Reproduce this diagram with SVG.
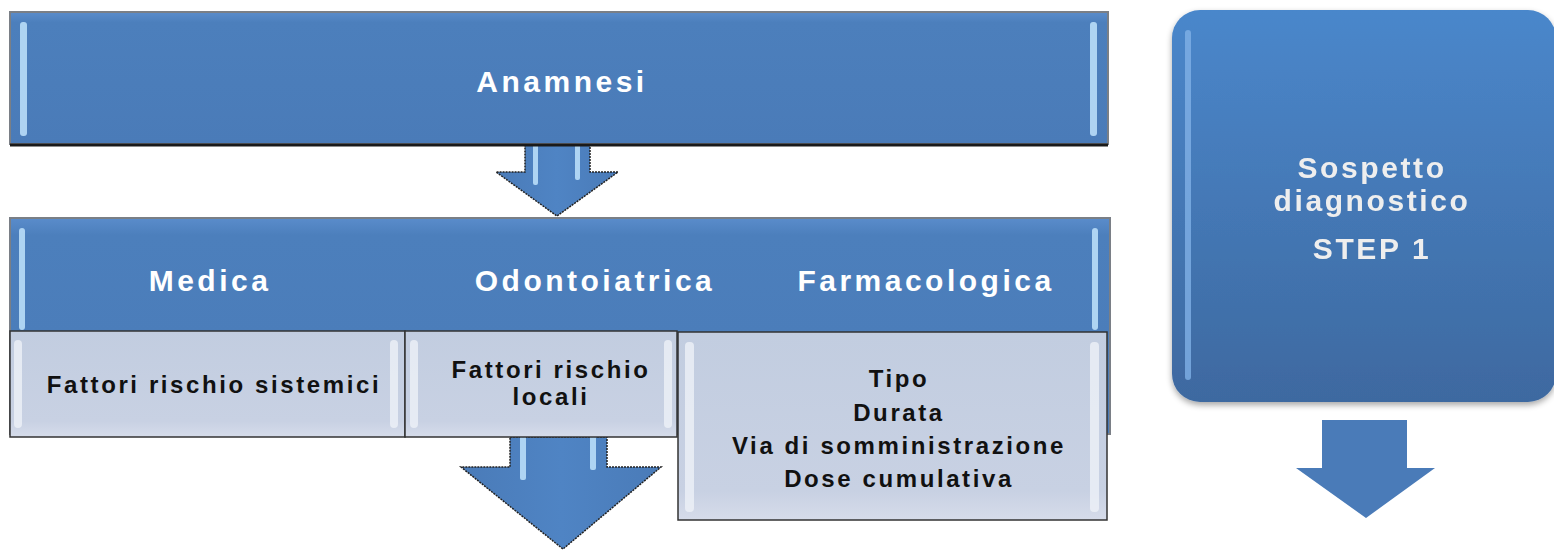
<svg xmlns="http://www.w3.org/2000/svg" width="1554" height="550" viewBox="0 0 1554 550">
<defs>
<linearGradient id="bandG" x1="0" y1="0" x2="0" y2="1">
<stop offset="0" stop-color="#5a8ccb"/><stop offset="0.08" stop-color="#4c7fbc"/><stop offset="1" stop-color="#4a7bb8"/>
</linearGradient>
<linearGradient id="subG" x1="0" y1="0" x2="0" y2="1">
<stop offset="0" stop-color="#c2cde0"/><stop offset="0.85" stop-color="#c8d1e3"/><stop offset="1" stop-color="#d6dcea"/>
</linearGradient>
<linearGradient id="stepG" x1="0" y1="0" x2="0" y2="1">
<stop offset="0" stop-color="#4a87cb"/><stop offset="1" stop-color="#3e69a0"/>
</linearGradient>
<linearGradient id="arrG" x1="0" y1="0" x2="1" y2="0">
<stop offset="0" stop-color="#4a7bb8"/><stop offset="0.5" stop-color="#4f84c4"/><stop offset="1" stop-color="#4a7bb8"/>
</linearGradient>
<filter id="sh" x="-5%" y="-5%" width="110%" height="115%">
<feGaussianBlur in="SourceAlpha" stdDeviation="3"/><feOffset dx="0" dy="3"/>
<feComponentTransfer><feFuncA type="linear" slope="0.35"/></feComponentTransfer>
<feMerge><feMergeNode/><feMergeNode in="SourceGraphic"/></feMerge>
</filter>
</defs>
<style>
.band{fill:url(#bandG);stroke:#7a7f86;stroke-width:2}
.bot{stroke:#1a1a1a;stroke-width:3}
.hl{fill:#bfe3fb;opacity:0.85}
.sub{fill:url(#subG);stroke:#333;stroke-width:1.5}
.subhl{fill:#eef1f7;opacity:0.8}
.hdr{font-family:"Liberation Sans",Arial,sans-serif;font-weight:bold;font-size:30px;letter-spacing:3.5px;fill:#ffffff;text-anchor:middle}
.txt{font-family:"Liberation Sans",Arial,sans-serif;font-weight:bold;font-size:24px;letter-spacing:2.6px;fill:#111;text-anchor:middle}
.stp{font-family:"Liberation Sans",Arial,sans-serif;font-weight:bold;font-size:30px;letter-spacing:2.6px;fill:#eeeeee;text-anchor:middle}
.arr{fill:url(#arrG);stroke:#222;stroke-width:1.5;stroke-dasharray:2 1}
.arr2{fill:#4a7bb8}
</style>

<g id="connectors">
<g id="arrow1">
<path class="arr" d="M525,140 L590,140 L590,172 L618,172 L557,216 L496,172 L525,172 Z"/>
<rect class="hl" x="533" y="135" width="5" height="50" rx="2"/>
<rect class="hl" x="575" y="135" width="5" height="45" rx="2"/>
</g>
<g id="arrow2">
<path class="arr" d="M510,437 L607,437 L607,467 L661,467 L563,549 L461,467 L510,467 Z"/>
<rect class="hl" x="520" y="430" width="6" height="50" rx="2" opacity="0.5"/>
<rect class="hl" x="590" y="430" width="6" height="40" rx="2" opacity="0.5"/>
</g>
<g id="arrow3">
<path class="arr2" d="M1322,420 L1407,420 L1407,468 L1435,468 L1366,518 L1296,468 L1322,468 Z"/>
</g>
</g>

<g id="anamnesi">
<rect class="band" x="10" y="12" width="1098" height="132"/>
<line class="bot" x1="10" y1="145" x2="1108" y2="145"/>
<rect class="hl" x="20" y="22" width="7" height="114" rx="3"/>
<rect class="hl" x="1090" y="22" width="7" height="114" rx="3"/>
<text class="hdr" x="562" y="92">Anamnesi</text>
</g>

<g id="categorie">
<rect class="band" x="10" y="218" width="1100" height="216"/>
<rect class="hl" x="19" y="228" width="6" height="102" rx="3"/>
<rect class="hl" x="1092" y="228" width="6" height="102" rx="3"/>
<text class="hdr" x="210" y="291">Medica</text>
<text class="hdr" x="595" y="291">Odontoiatrica</text>
<text class="hdr" x="926" y="291">Farmacologica</text>
</g>

<g id="medica">
<rect class="sub" x="10" y="331" width="395" height="106"/>
<rect class="subhl" x="14" y="340" width="8" height="88" rx="4"/>
<rect class="subhl" x="390" y="340" width="8" height="88" rx="4"/>
<text class="txt" x="214" y="393">Fattori rischio sistemici</text>
</g>

<g id="odontoiatrica">
<rect class="sub" x="405" y="331" width="272" height="106"/>
<rect class="subhl" x="410" y="340" width="8" height="88" rx="4"/>
<rect class="subhl" x="664" y="340" width="8" height="88" rx="4"/>
<text class="txt" x="551" y="378">Fattori rischio</text>
<text class="txt" x="551" y="405">locali</text>
</g>

<g id="farmacologica">
<rect class="sub" x="678" y="332" width="429" height="188"/>
<rect class="subhl" x="685" y="342" width="9" height="170" rx="4"/>
<rect class="subhl" x="1090" y="342" width="9" height="170" rx="4"/>
<text class="txt" x="899" y="387">Tipo</text>
<text class="txt" x="899" y="421">Durata</text>
<text class="txt" x="899" y="454">Via di somministrazione</text>
<text class="txt" x="899" y="487">Dose cumulativa</text>
</g>

<g id="step1" filter="url(#sh)">
<rect x="1172" y="10" width="384" height="392" rx="28" fill="url(#stepG)"/>
<rect x="1185" y="30" width="6" height="350" rx="3" fill="#7fb0e6" opacity="0.8"/>
<text class="stp" x="1372" y="178">Sospetto</text>
<text class="stp" x="1372" y="211">diagnostico</text>
<text class="stp" x="1372" y="259">STEP 1</text>
</g>
</svg>
